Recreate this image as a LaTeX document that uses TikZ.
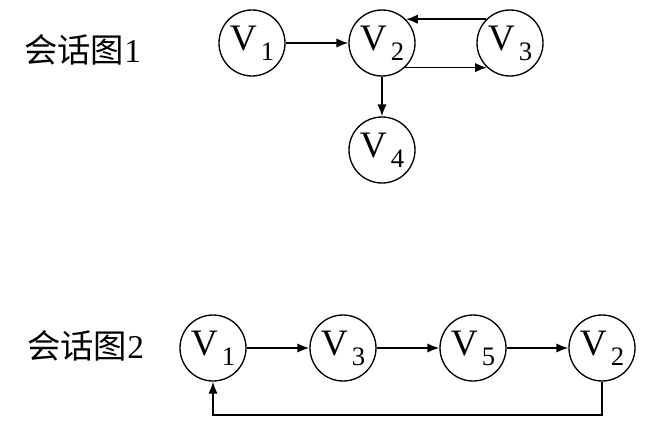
\documentclass[tikz,border=0pt]{standalone}
\usepackage{fontspec}
\setmainfont{Liberation Serif}
\newfontfamily\cjk{Noto Sans CJK SC}
\usetikzlibrary{arrows.meta}

\newcommand{\vtx}[1]{V\kern3pt\raisebox{-7.5pt}{\fontsize{20}{20}\selectfont #1}}
\tikzset{
  vert/.style={draw, circle, line width=1pt, minimum size=49.5pt, inner sep=0pt, font=\fontsize{28}{28}\selectfont},
  title/.style={font=\fontsize{25}{25}\selectfont, anchor=west, inner sep=0pt},
  conn/.style={-{Latex[length=9pt,width=7pt]}, line width=1.3pt}
}

\begin{document}
\begin{tikzpicture}[x=0.75pt,y=-0.75pt]
        \useasboundingbox (0,0) rectangle (661,436);
        % session graph 1
        \node[title] (g1) at (24,50) {{\cjk 会话图}1};
        \node[vert] (a1) at (252,43) {\vtx{1}};
        \node[vert] (a2) at (382,43) {\vtx{2}};
        \node[vert] (a3) at (510,43) {\vtx{3}};
        \node[vert] (a4) at (382,150) {\vtx{4}};
        \draw[conn] (a1) -- (a2);
        \draw[conn] (a3.135) -- (a2.45);
        \draw[conn] (a2.-47) -- (a3.-133);
        \draw[conn] (a2) -- (a4);
        % session graph 2
        \node[title] (g2) at (27,346) {{\cjk 会话图}2};
        \node[vert] (b1) at (213,348) {\vtx{1}};
        \node[vert] (b3) at (343,348) {\vtx{3}};
        \node[vert] (b5) at (473,348) {\vtx{5}};
        \node[vert] (b2) at (602,348) {\vtx{2}};
        \draw[conn] (b1) -- (b3);
        \draw[conn] (b3) -- (b5);
        \draw[conn] (b5) -- (b2);
        \draw[conn] (b2.south) -- ++(0,33) -| (b1.south);
\end{tikzpicture}
\end{document}
